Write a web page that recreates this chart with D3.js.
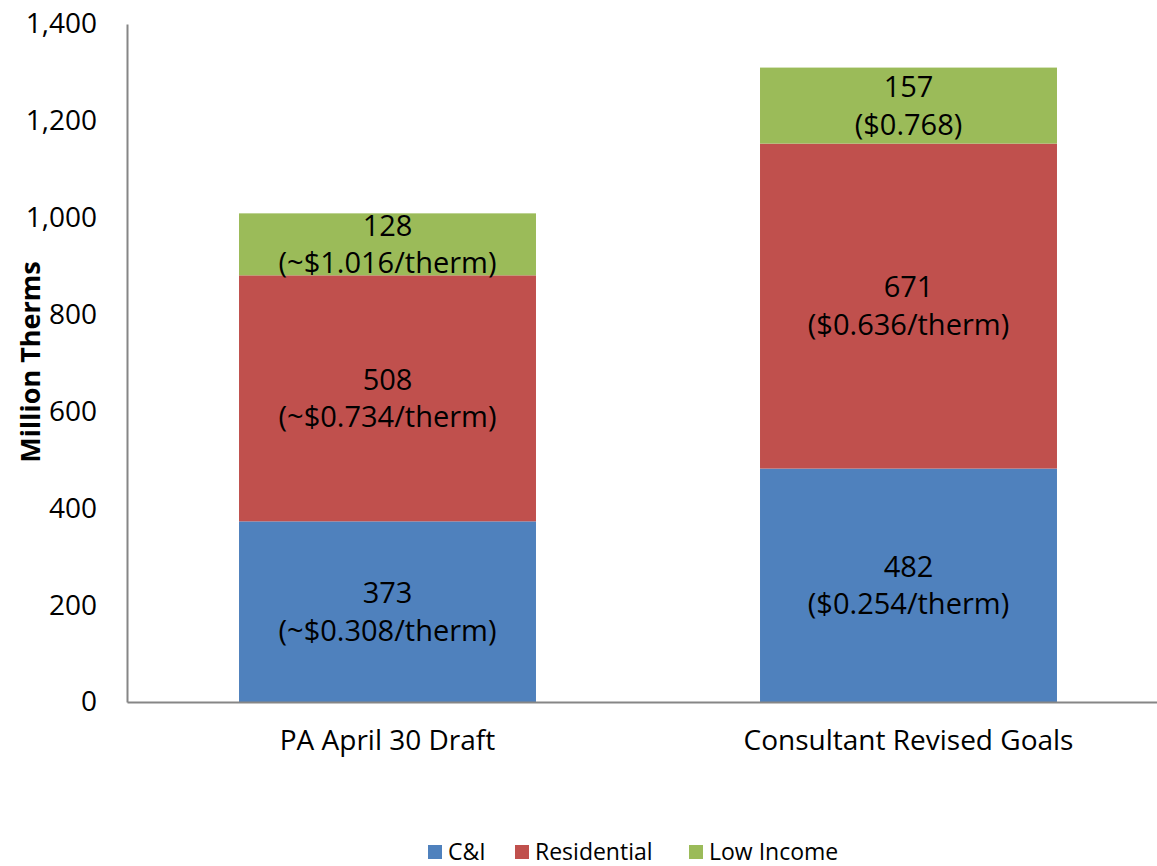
<!DOCTYPE html>
<html>
<head>
<meta charset="utf-8">
<script src="https://cdn.jsdelivr.net/npm/d3@7"></script>
<style>
  body { margin: 0; background: #fff; }
  svg text { font-family: "Open Sans", sans-serif; fill: #000; }
</style>
</head>
<body>
<div id="chart"></div>
<script>
// Data
const categories = ["PA April 30 Draft", "Consultant Revised Goals"];
const seriesNames = ["C&I", "Residential", "Low Income"];
const seriesColors = ["#4F81BD", "#C0504D", "#9BBB59"];
const cniValues = [373, 482];
const residentialValues = [508, 671];
const lowIncomeValues = [128, 157];
const cniLabels = ["(~$0.308/therm)", "($0.254/therm)"];
const residentialLabels = ["(~$0.734/therm)", "($0.636/therm)"];
const lowIncomeLabels = ["(~$1.016/therm)", "($0.768)"];
const yTicks = [0, 200, 400, 600, 800, 1000, 1200, 1400];

const width = 1157, height = 866;
const margin = { top: 24, bottom: 164, left: 127, right: -12 };

const svg = d3.select("#chart")
    .append("svg")
    .attr("width", width)
    .attr("height", height);

// Build rows for the stack
const table = categories.map((c, i) => ({
    category: c,
    "C&I": cniValues[i],
    "Residential": residentialValues[i],
    "Low Income": lowIncomeValues[i]
}));
const priceLabels = {
    "C&I": cniLabels,
    "Residential": residentialLabels,
    "Low Income": lowIncomeLabels
};

const xScale = d3.scaleBand()
    .domain(categories)
    .range([margin.left, width - margin.right])
    .paddingInner(0.43)
    .paddingOuter(0.215);

const yScale = d3.scaleLinear()
    .domain([0, 1400])
    .range([height - margin.bottom, margin.top]);

const color = d3.scaleOrdinal().domain(seriesNames).range(seriesColors);

const stacked = d3.stack().keys(seriesNames)(table);

// Bars
const layers = svg.selectAll(".layer")
    .data(stacked)
    .enter().append("g")
    .attr("class", "layer")
    .attr("fill", d => color(d.key));

layers.selectAll("rect")
    .data(d => d)
    .enter().append("rect")
    .attr("x", d => xScale(d.data.category))
    .attr("y", d => yScale(d[1]))
    .attr("width", xScale.bandwidth())
    .attr("height", d => yScale(d[0]) - yScale(d[1]));

// Data labels (value + price per therm)
stacked.forEach(layer => {
    layer.forEach((d, i) => {
        const cx = xScale(d.data.category) + xScale.bandwidth() / 2;
        const cy = yScale((d[0] + d[1]) / 2);
        const t = svg.append("text")
            .attr("x", cx)
            .attr("y", cy)
            .attr("text-anchor", "middle")
            .style("font-size", "29px");
        t.append("tspan").attr("x", cx).attr("dy", "-0.3em").text(d[1] - d[0]);
        t.append("tspan").attr("x", cx).attr("dy", "1.3em").text(priceLabels[layer.key][i]);
    });
});

// Y axis
const yAxis = svg.append("g")
    .attr("transform", `translate(${margin.left}, 0)`)
    .call(d3.axisLeft(yScale).tickValues(yTicks).tickSize(0).tickPadding(30).tickFormat(d3.format(",")));
yAxis.select(".domain").attr("stroke", "#868686").attr("stroke-width", 2);
yAxis.selectAll("text").style("font-size", "28px").style("font-family", "'Open Sans', sans-serif").attr("fill", "#000");

// X axis
const xAxis = svg.append("g")
    .attr("transform", `translate(0, ${height - margin.bottom})`)
    .call(d3.axisBottom(xScale).tickSize(0).tickPadding(28));
xAxis.select(".domain").attr("stroke", "#868686").attr("stroke-width", 2);
xAxis.selectAll("text").style("font-size", "28px").style("font-family", "'Open Sans', sans-serif").attr("fill", "#000");

// Y axis title
svg.append("text")
    .attr("transform", "rotate(-90)")
    .attr("x", -362)
    .attr("y", 40)
    .attr("text-anchor", "middle")
    .style("font-size", "27px")
    .style("font-weight", "bold")
    .text("Million Therms");

// Legend
const legendX = [428, 515, 689];
const legend = svg.selectAll(".legend")
    .data(seriesNames)
    .enter().append("g")
    .attr("class", "legend")
    .attr("transform", (d, i) => `translate(${legendX[i]}, 845)`);

legend.append("rect")
    .attr("width", 14)
    .attr("height", 14)
    .attr("fill", d => color(d));

legend.append("text")
    .attr("x", 20)
    .attr("y", 7)
    .attr("dy", "0.35em")
    .style("font-size", "23px")
    .text(d => d);
</script>
</body>
</html>
